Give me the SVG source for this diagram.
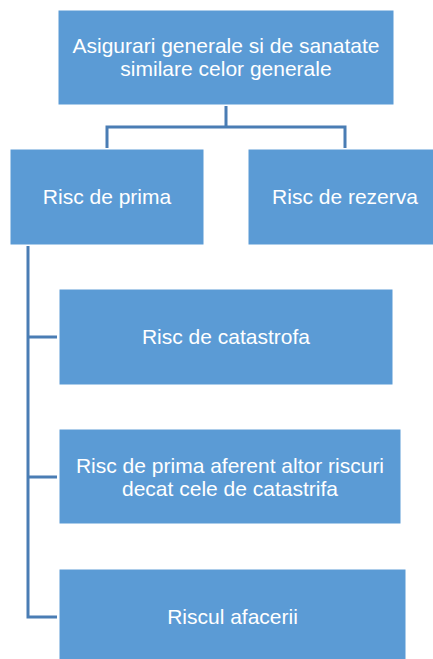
<svg xmlns="http://www.w3.org/2000/svg" width="433" height="659" viewBox="0 0 433 659">
<style>
.box{fill:#5B9BD5;stroke:#ffffff;stroke-width:1}
.lbl{font-family:"Liberation Sans",Arial,sans-serif;font-size:21px;fill:#ffffff;text-anchor:middle}
.conn{fill:none;stroke:#4A7DB4;stroke-width:3}
</style>
<rect width="433" height="659" fill="#ffffff"/>
<g id="connectors">
<path class="conn" d="M226 106 V127 M107 127 H345 M107 125.5 V148 M345 125.5 V148"/>
<path class="conn" d="M28 246 V617 M26.5 337 H57 M26.5 477 H57 M26.5 617 H57"/>
</g>
<g id="n-top">
<rect class="box" x="58" y="10" width="336" height="95"/>
<text class="lbl" x="226" y="53">Asigurari generale si de sanatate</text>
<text class="lbl" x="226" y="75.5">similare celor generale</text>
</g>
<g id="n-prima">
<rect class="box" x="10" y="149" width="194" height="96"/>
<text class="lbl" x="107" y="204">Risc de prima</text>
</g>
<g id="n-rezerva">
<rect class="box" x="248" y="149" width="194" height="96"/>
<text class="lbl" x="345" y="204">Risc de rezerva</text>
</g>
<g id="n-catastrofa">
<rect class="box" x="59" y="289" width="334" height="96"/>
<text class="lbl" x="226" y="344">Risc de catastrofa</text>
</g>
<g id="n-altor">
<rect class="box" x="59" y="429" width="342" height="95"/>
<text class="lbl" x="230" y="473">Risc de prima aferent altor riscuri</text>
<text class="lbl" x="230" y="495.5">decat cele de catastrifa</text>
</g>
<g id="n-afacerii">
<rect class="box" x="59" y="569" width="347" height="96"/>
<text class="lbl" x="232.5" y="624">Riscul afacerii</text>
</g>
</svg>
